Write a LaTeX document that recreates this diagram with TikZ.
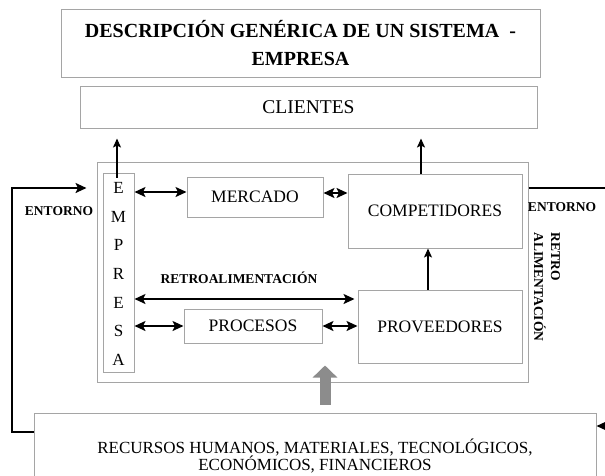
\documentclass[tikz,border=0pt]{standalone}
\usepackage{fontspec}
\setmainfont{Liberation Serif}
\usepackage{tikz}
\usetikzlibrary{arrows.meta,positioning,calc}
\definecolor{edgegray}{RGB}{165,165,165}
\definecolor{blockgray}{RGB}{140,140,140}
\tikzstyle{sysbox} = [rectangle, draw=edgegray, line width=1pt, inner sep=0pt, text centered, font=\fontsize{17.5}{20}\selectfont]
\tikzstyle{arrow} = [line width=1.4pt, -{Stealth[length=9pt,width=8pt,inset=2pt]}]
\tikzstyle{darrow} = [line width=2pt, {Stealth[length=11pt,width=10pt,inset=2.5pt]}-{Stealth[length=11pt,width=10pt,inset=2.5pt]}]
\tikzstyle{loop} = [line width=2.5pt, -{Stealth[length=11pt,width=10pt,inset=2.5pt]}]
\tikzstyle{blockarrow} = [line width=11pt, draw=blockgray, -{Triangle[length=12pt,width=24pt]}]
\tikzstyle{tag} = [inner sep=0pt, font=\fontsize{13.5}{17}\selectfont\bfseries]

\begin{document}
\begin{tikzpicture}[x=1pt, y=-1pt]
\useasboundingbox (0,0) rectangle (605,475);
% Title and clients
\node[sysbox, minimum width=479pt, minimum height=68pt, align=center, font=\fontsize{20}{28}\selectfont\bfseries] (title) at (300.5,43) {DESCRIPCIÓN GENÉRICA DE UN SISTEMA~~-\\EMPRESA};
\node[sysbox, minimum width=457pt, minimum height=42pt, font=\fontsize{19.5}{22}\selectfont] (cli) at (308.5,107) {CLIENTES};

% System
\node[sysbox, minimum width=431pt, minimum height=220pt] (sys) at (312.5,272) {};
\node[sysbox, minimum width=31pt, minimum height=199pt] (emp) at (118.5,272.5) {};
\node[inner sep=0pt, align=center, font=\fontsize{17}{28.6}\selectfont] (emptxt) at (118.5,274) {E\\M\\P\\R\\E\\S\\A};
\node[sysbox, minimum width=136pt, minimum height=40pt] (mer) at (255,197) {MERCADO};
\node[sysbox, minimum width=174pt, minimum height=74pt] (comp) at (435,211) {COMPETIDORES};
\node[sysbox, minimum width=164pt, minimum height=73pt] (prov) at (440,326.5) {PROVEEDORES};
\node[sysbox, minimum width=138pt, minimum height=34pt] (proc) at (253,326) {PROCESOS};

% Resources
\node[sysbox, minimum width=562pt, minimum height=86pt, align=center, font=\fontsize{17}{17.5}\selectfont] (rec) at (315,456) {RECURSOS HUMANOS, MATERIALES, TECNOLÓGICOS,\\ECONÓMICOS, FINANCIEROS};

% Labels
\node[tag] (entl) at (59,211) {ENTORNO};
\node[tag] (entr) at (562,207) {ENTORNO};
\node[tag] (retro) at (239,278) {RETROALIMENTACIÓN};
\node[tag, rotate=-90, align=left] (retro2) at (547,287) {RETRO\\ALIMENTACIÓN};

% Links to clients
\draw[arrow, shorten >=10pt] ($(emp.north)+(-1.5,5)$) -- ($(emp.north |- cli.south)+(-1.5,0)$);
\draw[arrow, line width=2.6pt, shorten >=10pt] ($(comp.north)+(-14,0)$) -- ($(comp.north |- cli.south)+(-14,0)$);

% Links inside the system
\draw[darrow] ($(emp.east |- mer.west)+(0,-5)$) -- ($(mer.west)+(0,-5)$);
\draw[darrow] ($(mer.east)+(0,-4)$) -- ($(mer.east -| comp.west)+(0,-4)$);
\draw[darrow] ($(emp.east |- prov.west)+(0,-27.5)$) -- ($(prov.west)+(-3,-27.5)$);
\draw[darrow] (emp.east |- proc.west) -- (proc.west);
\draw[darrow] (proc.east) -- (proc.east -| prov.west);
\draw[arrow] ($(prov.north)+(-12,0)$) -- ($(comp.south -| prov.north)+(-12,0)$);

% Inputs
\draw[blockarrow] ($(rec.north)+(10,-8)$) -- ($(prov.south -| rec.north)+(10,2)$);

% Environment loops
\coordinate (lcorner) at (12,188);
\coordinate (rcorner) at (612,188);
\draw[loop] ($(rec.west)+(0,-24)$) -| (lcorner) -- ($(lcorner -| sys.west)+(-10,0)$);
\draw[loop] (sys.east |- rcorner) -- (rcorner) |- ($(rec.east)+(0,-30)$);
\end{tikzpicture}
\end{document}
